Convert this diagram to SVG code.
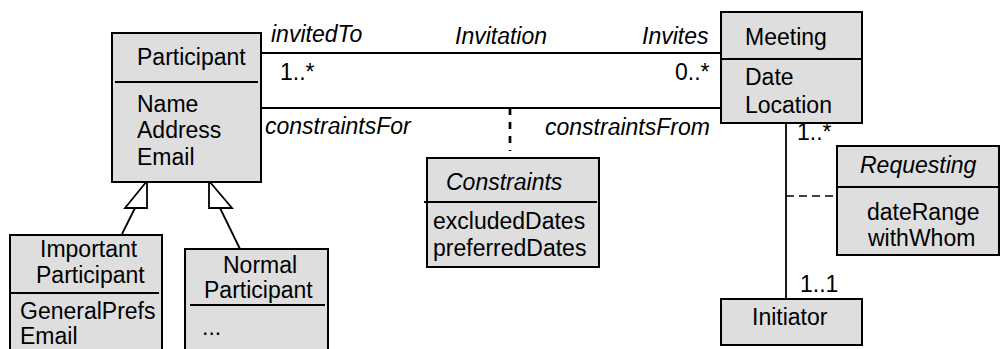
<svg xmlns="http://www.w3.org/2000/svg" width="1001" height="349" viewBox="0 0 1001 349">
<style>
text{font-family:"Liberation Sans",Arial,sans-serif;font-size:23px;fill:#000}
.i{font-style:italic}
.box{fill:#dedede;stroke:#000;stroke-width:2}
.div{stroke:#000;stroke-width:2;fill:none}
.ln{stroke:#000;stroke-width:1.8;fill:none}
.tri{fill:#fff;stroke:#000;stroke-width:1.8}
</style>
<rect width="1001" height="349" fill="#fff"/>
<g id="connectors">
<line class="ln" x1="261" y1="53" x2="722" y2="53"/>
<line class="ln" x1="262" y1="108" x2="722" y2="108"/>
<line x1="510" y1="108" x2="510" y2="151" stroke="#000" stroke-width="2.7" stroke-dasharray="7,7"/>
<line class="ln" x1="786" y1="123" x2="786" y2="299"/>
<line x1="786" y1="196" x2="837" y2="196" stroke="#000" stroke-width="1.3" stroke-dasharray="8,5"/>
<line class="ln" x1="135" y1="208" x2="122" y2="234"/>
<polygon class="tri" points="147,181 147,208 125,208"/>
<line class="ln" x1="220" y1="208" x2="240" y2="249"/>
<polygon class="tri" points="209,181 209,208 232,208"/>
<text class="i" x="271" y="42">invitedTo</text>
<text x="280" y="80">1..*</text>
<text class="i" x="265" y="134">constraintsFor</text>
<text class="i" x="455" y="44">Invitation</text>
<text class="i" x="642" y="44">Invites</text>
<text x="675" y="80">0..*</text>
<text class="i" x="545" y="135">constraintsFrom</text>
<text x="797" y="140">1..*</text>
<text x="800" y="292">1..1</text>
</g>
<g id="participant">
<rect class="box" x="112" y="33" width="149" height="149"/>
<line class="div" x1="115" y1="82" x2="258" y2="82"/>
<text x="137" y="65">Participant</text>
<text x="137" y="112">Name</text>
<text x="137" y="138">Address</text>
<text x="137" y="165">Email</text>
</g>
<g id="meeting">
<rect class="box" x="721" y="12" width="141" height="111"/>
<line class="div" x1="721" y1="59" x2="862" y2="59"/>
<text x="745" y="45">Meeting</text>
<text x="745" y="85">Date</text>
<text x="745" y="113">Location</text>
</g>
<g id="constraints">
<rect class="box" x="427" y="158" width="172" height="109"/>
<line class="div" x1="424" y1="202" x2="597" y2="202"/>
<text class="i" x="446" y="190">Constraints</text>
<text x="433" y="229">excludedDates</text>
<text x="433" y="256">preferredDates</text>
</g>
<g id="requesting">
<rect class="box" x="837" y="146" width="162" height="109"/>
<line class="div" x1="837" y1="187" x2="999" y2="187"/>
<text class="i" x="860" y="173">Requesting</text>
<text x="867" y="220">dateRange</text>
<text x="868" y="246">withWhom</text>
</g>
<g id="initiator">
<rect class="box" x="721" y="299" width="141" height="46"/>
<text x="752" y="325">Initiator</text>
</g>
<g id="important">
<rect class="box" x="10" y="235" width="152" height="130"/>
<line class="div" x1="10" y1="293" x2="159" y2="293"/>
<text x="40" y="257">Important</text>
<text x="36" y="283">Participant</text>
<text x="20" y="319">GeneralPrefs</text>
<text x="20" y="344">Email</text>
</g>
<g id="normal">
<rect class="box" x="185" y="249" width="143" height="120"/>
<line class="div" x1="190" y1="305" x2="325" y2="305"/>
<text x="223" y="273">Normal</text>
<text x="204" y="298">Participant</text>
<text x="202" y="335">...</text>
</g>
</svg>
